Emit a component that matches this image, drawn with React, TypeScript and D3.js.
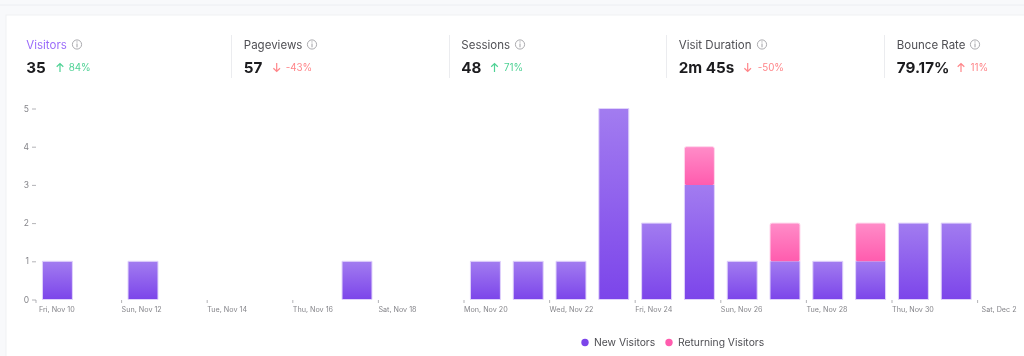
import React from "react";
import * as d3 from "d3";

const days = ["Fri, Nov 10","Sat, Nov 11","Sun, Nov 12","Mon, Nov 13","Tue, Nov 14","Wed, Nov 15","Thu, Nov 16","Fri, Nov 17","Sat, Nov 18","Sun, Nov 19","Mon, Nov 20","Tue, Nov 21","Wed, Nov 22","Thu, Nov 23","Fri, Nov 24","Sat, Nov 25","Sun, Nov 26","Mon, Nov 27","Tue, Nov 28","Wed, Nov 29","Thu, Nov 30","Fri, Dec 1","Sat, Dec 2"];
const newVisitors = [1,0,1,0,0,0,0,1,0,0,1,1,1,5,2,3,1,1,1,1,2,2,0];
const returningVisitors = [0,0,0,0,0,0,0,0,0,0,0,0,0,0,0,1,0,1,0,1,0,0,0];
const yTicks = [0,1,2,3,4,5];
const metricNames = ["Visitors","Pageviews","Sessions","Visit Duration","Bounce Rate"];
const metricValues = ["35","57","48","2m 45s","79.17%"];
const metricDeltas = ["84%","-43%","71%","-50%","11%"];
const metricUp = [true,false,true,false,true];
const metricGood = [true,false,true,false,false];
const metricX = [26.3,243.8,461.3,678.8,896.8];
const dividerX = [231,449,666,884];
const iconX = [77,312,520,762,975];
const arrowX = [60,276.7,494.5,747.7,961];
const deltaX = [68.7,285.7,504,757.7,970.5];

const FONT = "Inter, 'Noto Sans', sans-serif";
const stackKeys = ["new","ret"];

export default function App() {
  const x = d3.scaleBand<number>().domain(d3.range(22)).range([36, 977.6]).paddingInner(0.3).paddingOuter(0.15);
  const y = d3.scaleLinear().domain([0,5]).range([299.5,108.5]);
  const rows = days.slice(0,22).map((d,i)=>({new:newVisitors[i],ret:returningVisitors[i],i}));
  const stack = d3.stack<any>().keys(stackKeys)(rows);
  const tickX = (i:number)=> 36 + i*(977.6-36)/22;
  const border = (bx:number,bw:number,y0:number,y1:number,top:boolean,hasAbove:boolean)=>{
    const p = d3.path();
    if(top){
      p.moveTo(bx,y0); p.lineTo(bx,y1+2); p.quadraticCurveTo(bx,y1,bx+2,y1); p.lineTo(bx+bw-2,y1); p.quadraticCurveTo(bx+bw,y1,bx+bw,y1+2); p.lineTo(bx+bw,y0);
    } else if(hasAbove){
      p.moveTo(bx,y1); p.lineTo(bx,y0); p.lineTo(bx+bw,y0); p.lineTo(bx+bw,y1);
    } else {
      p.rect(bx,y1,bw,y0-y1);
    }
    return p.toString();
  };
  return (
    <svg width={1024} height={356} style={{position:"absolute",left:0,top:0,background:"#f8f9fb",fontFamily:FONT,filter:"blur(0.35px)"}}>
      <defs>
        <linearGradient id="gN" x1="0" y1="0" x2="0" y2="1">
          <stop offset="0" stopColor="#a27cf0"/><stop offset="1" stopColor="#7c45ea"/>
        </linearGradient>
        <linearGradient id="gR" x1="0" y1="0" x2="0" y2="1">
          <stop offset="0" stopColor="#ff8cc8"/><stop offset="1" stopColor="#ff5cae"/>
        </linearGradient>
      </defs>
      <rect x={-2} y={-2} width={1030} height={7} fill="#f8f9fb" stroke="#eceef2"/>
      <rect x={6} y={15} width={1020} height={345} fill="#ffffff" stroke="#f0f1f4"/>
      {dividerX.map(d=><line key={d} x1={d+.5} x2={d+.5} y1={35} y2={78} stroke="#ebecef"/>)}
      {metricNames.map((n,i)=>{
        const cx = metricX[i];
        const ix = iconX[i];
        const ax = arrowX[i];
        const col = metricGood[i] ? "#4fd295" : "#ff8589";
        return <g key={n}>
          <text x={cx} y={48.5} fontSize={11.5} fill={i===0?"#9b6bfa":"#4f4f54"}>{n}</text>
          <circle cx={ix} cy={44.5} r={4.6} fill="none" stroke="#a0a0a5" strokeWidth={0.9}/>
          <line x1={ix} x2={ix} y1={43.5} y2={47.3} stroke="#a0a0a5" strokeWidth={1}/>
          <circle cx={ix} cy={41.9} r={0.6} fill="#a0a0a5"/>
          <text x={cx} y={73} fontSize={15.2} fontWeight={700} fill="#1c1c1f">{metricValues[i]}</text>
          <g stroke={col} strokeWidth={1.2} fill="none" transform={`translate(${ax},67.5)`}>
            {metricUp[i]
              ? <path d="M0,4.5 V-4 M-3.3,-0.8 L0,-4 L3.3,-0.8"/>
              : <path d="M0,-4.5 V4 M-3.3,0.8 L0,4 L3.3,0.8"/>}
          </g>
          <text x={deltaX[i]} y={71} fontSize={9.8} fill={col}>{metricDeltas[i]}</text>
        </g>;
      })}
      {yTicks.map(t=><g key={t}>
        <text x={29} y={y(t)+3} fontSize={8.5} textAnchor="end" fill="#85858a">{t}</text>
        <line x1={32} x2={36} y1={y(t)+.5} y2={y(t)+.5} stroke="#a0a0a5" strokeWidth={0.8}/>
      </g>)}
      {days.map((d,i)=> i%2===0 && <g key={d}>
        <line x1={tickX(i)} x2={tickX(i)} y1={300} y2={303} stroke="#a0a0a5" strokeWidth={0.8}/>
        <text x={i===0?39:tickX(i)+ (i===22?4:0)} y={312} fontSize={7.2} fill="#85858a">{d}</text>
      </g>)}
      {stack.map((s,si)=>s.map((p:any,i:number)=>{
        if(p[1]-p[0]<=0) return null;
        const top = si===1;
        const bx=x(i)!, bw=x.bandwidth(), y0=y(p[0]), y1=y(p[1]);
        return <g key={si+"-"+i}>
          <rect x={bx} y={y1} width={bw} height={y0-y1} rx={top?2:0} fill={top?"url(#gR)":"url(#gN)"}/>
          <path d={border(bx,bw,y0,y1,top,!top&&returningVisitors[i]>0)} fill="none" stroke={top?"#ffd6ec":"#e0d2fb"} strokeWidth={1}/>
        </g>;
      }))}
      <circle cx={585} cy={342.5} r={3.7} fill="#7c45ea"/>
      <text x={594} y={345.5} fontSize={10.3} fill="#4f4f54">New Visitors</text>
      <circle cx={669} cy={342.5} r={3.7} fill="#ff5cae"/>
      <text x={678} y={345.5} fontSize={10.3} fill="#4f4f54">Returning Visitors</text>
    </svg>
  );
}
